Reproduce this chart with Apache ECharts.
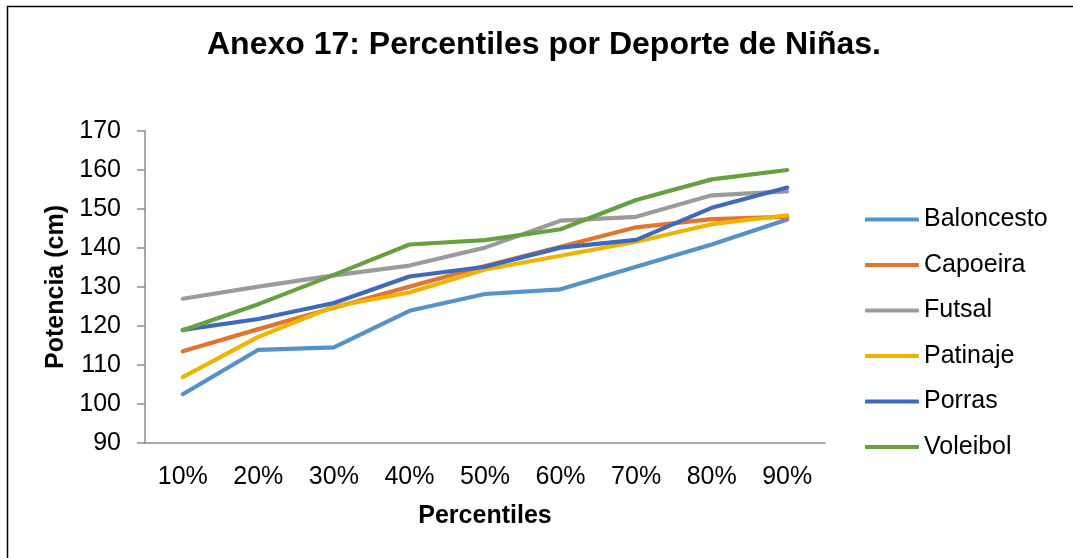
<!DOCTYPE html>
<html>
<head>
<meta charset="utf-8">
<title>Anexo 17: Percentiles por Deporte de Niñas.</title>
<script src="https://cdn.jsdelivr.net/npm/echarts@6/dist/echarts.min.js"></script>
<style>
  html, body { margin: 0; padding: 0; background: #ffffff; }
  #chart { width: 1073px; height: 558px; }
</style>
</head>
<body>
<div id="chart"></div>
<script>
// Percentile categories on the x axis
const percentiles = ['10%', '20%', '30%', '40%', '50%', '60%', '70%', '80%', '90%'];

// Power (cm) per sport at each percentile
const baloncesto = [102.5, 113.9, 114.5, 123.9, 128.2, 129.4, 135.2, 140.9, 147.3];
const capoeira   = [113.5, 119.2, 124.7, 130.1, 135.4, 140.3, 145.3, 147.4, 148.0];
const futsal     = [127.0, 130.1, 133.0, 135.5, 140.1, 147.0, 148.0, 153.5, 154.5];
const patinaje   = [106.9, 117.2, 125.0, 128.6, 134.5, 138.0, 141.6, 146.1, 148.4];
const porras     = [119.0, 121.8, 125.9, 132.7, 135.2, 140.1, 142.1, 150.3, 155.5];
const voleibol   = [118.9, 125.6, 133.1, 140.9, 142.0, 144.8, 152.3, 157.6, 160.0];

const sportNames = ['Baloncesto', 'Capoeira', 'Futsal', 'Patinaje', 'Porras', 'Voleibol'];
const sportData  = [baloncesto, capoeira, futsal, patinaje, porras, voleibol];
const sportColors = ['#5592CA', '#E0752E', '#9B9B9B', '#F0B400', '#3F69BA', '#65A140'];

const FONT = '"Liberation Sans", Arial, sans-serif';

const chart = echarts.init(document.getElementById('chart'), null, { renderer: 'canvas' });

chart.setOption({
  backgroundColor: '#ffffff',
  animation: false,
  graphic: [{
    // outer frame of the chart area
    type: 'rect',
    left: 5, top: 4,
    shape: { width: 1080, height: 570 },
    style: { fill: 'none', stroke: '#000000', lineWidth: 1.5 },
    z: -1
  }],
  title: {
    text: 'Anexo 17: Percentiles por Deporte de Niñas.',
    left: 207,
    top: 29,
    padding: 0,
    textStyle: { fontFamily: FONT, fontSize: 32, fontWeight: 'bold', color: '#000000' }
  },
  legend: {
    orient: 'vertical',
    left: 865,
    top: 207,
    padding: 0,
    itemWidth: 54,
    itemHeight: 4,
    itemGap: 20.5,
    icon: 'roundRect',
    data: sportNames,
    textStyle: { fontFamily: FONT, fontSize: 25, color: '#000000', lineHeight: 25 }
  },
  grid: { left: 145, right: 248, top: 131, bottom: 115, containLabel: false },
  xAxis: {
    type: 'category',
    data: percentiles,
    boundaryGap: true,
    name: 'Percentiles',
    nameLocation: 'middle',
    nameGap: 61,
    nameTextStyle: { fontFamily: FONT, fontSize: 25, fontWeight: 'bold', color: '#000000' },
    axisLine: { lineStyle: { color: '#8C8C8C', width: 1.5 } },
    axisTick: { show: false },
    axisLabel: { fontFamily: FONT, fontSize: 25, color: '#000000', margin: 22 },
    splitLine: { show: false }
  },
  yAxis: {
    type: 'value',
    min: 90,
    max: 170,
    interval: 10,
    name: 'Potencia (cm)',
    nameLocation: 'middle',
    nameGap: 72,
    nameRotate: 90,
    nameTextStyle: { fontFamily: FONT, fontSize: 25, fontWeight: 'bold', color: '#000000' },
    axisLine: { show: true, lineStyle: { color: '#8C8C8C', width: 1.5 } },
    axisTick: { show: true, length: 8, lineStyle: { color: '#8C8C8C', width: 1.5 } },
    axisLabel: { fontFamily: FONT, fontSize: 25, color: '#000000', margin: 24 },
    splitLine: { show: false }
  },
  series: sportNames.map((name, i) => ({
    name: name,
    type: 'line',
    data: sportData[i],
    showSymbol: false,
    symbol: 'none',
    color: sportColors[i],
    lineStyle: { width: 4.2, color: sportColors[i], cap: 'round', join: 'round' },
    itemStyle: { color: sportColors[i] },
    z: 2 + i
  }))
});
</script>
</body>
</html>
